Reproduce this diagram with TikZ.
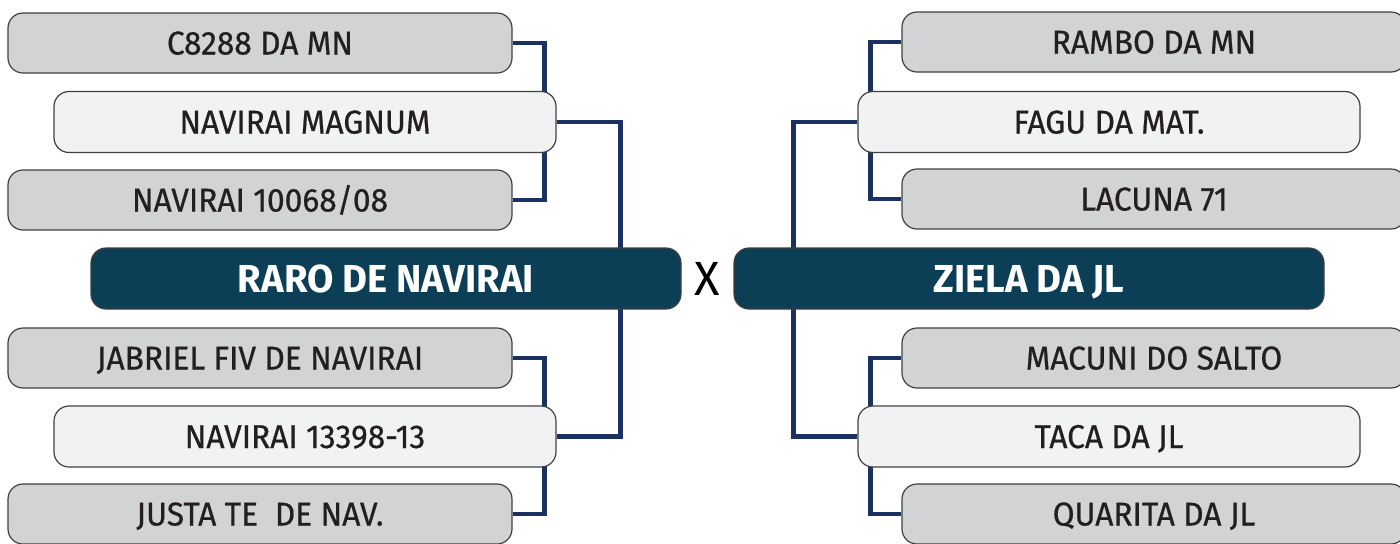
\documentclass[tikz,border=0pt]{standalone}
\usepackage{fontspec}
\setmainfont{Fira Sans}[FakeStretch=0.98]
\newfontfamily\entryfont{Fira Sans}[FakeStretch=0.96, FakeBold=0.6]
\usepackage{xcolor}
\usetikzlibrary{positioning, backgrounds}
\definecolor{linknavy}{HTML}{1B3162}
\definecolor{boxgray}{HTML}{D1D3D4}
\definecolor{boxlight}{HTML}{F1F2F4}
\definecolor{boxdark}{HTML}{0C3F56}
\definecolor{boxtext}{HTML}{231F20}
\begin{document}
\begin{tikzpicture}[
    x=0.5pt, y=-0.5pt,
    entry/.style={rectangle, draw=black!75, line width=0.6pt, rounded corners=7.5pt, minimum width=252pt, minimum height=30pt, inner sep=0pt, text height=11.5pt, text depth=0pt, text=boxtext, font=\entryfont\fontsize{16.5}{18}\selectfont},
    outer/.style={entry, fill=boxgray},
    inner/.style={entry, fill=boxlight, minimum width=251pt, minimum height=30.5pt},
    champ/.style={entry, fill=boxdark, minimum width=295pt, minimum height=30.5pt, text height=13.5pt, text=white, font=\rmfamily\fontsize{19.5}{21}\selectfont\bfseries},
    link/.style={linknavy, line width=2.2pt}
]
    \useasboundingbox (0, 0) rectangle (1400, 543);
    % Left side
    \node[outer] (c8288) at (260, 43) {C8288 DA MN};
    \node[inner] (magnum) at (305, 122) {NAVIRAI MAGNUM};
    \node[outer] (nav10068) at (260, 200) {NAVIRAI 10068/08};
    \node[champ] (raro) at (386, 278.5) {RARO DE NAVIRAI};
    \node[outer] (jabriel) at (260, 358) {JABRIEL FIV DE NAVIRAI};
    \node[inner] (nav13398) at (305, 436.5) {NAVIRAI 13398-13};
    \node[outer] (justa) at (260, 514) {JUSTA TE~~DE NAV.};
    % Right side
    \node[outer] (rambo) at (1154, 42) {RAMBO DA MN};
    \node[inner] (fagu) at (1109, 122) {FAGU DA MAT.};
    \node[outer] (lacuna) at (1154, 199) {LACUNA 71};
    \node[champ] (ziela) at (1029, 278.5) {ZIELA DA JL};
    \node[outer] (macuni) at (1154, 358) {MACUNI DO SALTO};
    \node[inner] (taca) at (1109, 436.5) {TACA DA JL};
    \node[outer] (quarita) at (1154, 514) {QUARITA DA JL};
    % Versus
    \node[font=\rmfamily\fontsize{24}{26}\selectfont, text height=16.5pt, text depth=0pt, inner sep=0pt] (versus) at (707, 279) {X};
    % Brackets behind the boxes
    \begin{scope}[on background layer]
        \draw[link] (c8288.east) -- ++(32, 0) |- (nav10068.east);
        \draw[link] (jabriel.east) -- ++(32, 0) |- (justa.east);
        \draw[link] (magnum.east) -- ++(64, 0) |- (nav13398.east);
        \draw[link] (rambo.west) -- ++(-31, 0) |- (lacuna.west);
        \draw[link] (macuni.west) -- ++(-31, 0) |- (quarita.west);
        \draw[link] (fagu.west) -- ++(-64, 0) |- (taca.west);
    \end{scope}
\end{tikzpicture}
\end{document}
